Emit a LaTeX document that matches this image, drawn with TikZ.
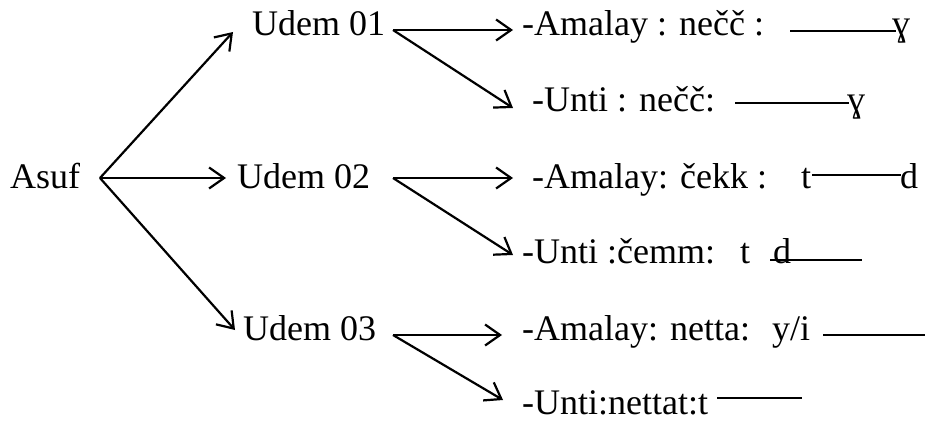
\documentclass[tikz,border=0pt]{standalone}
\usepackage{fontspec}
\setmainfont{Liberation Serif}
\usetikzlibrary{arrows.meta}
\begin{document}
\begin{tikzpicture}[x=1pt,y=-1pt,
  txt/.style={anchor=base west,inner sep=0pt,font=\fontsize{36}{40}\selectfont},
  arr/.style={line width=2.2pt,-{Straight Barb[length=15pt,width=21pt,line width=2.2pt]}},
  rule/.style={line width=1.8pt}]
\useasboundingbox (0,0) rectangle (928,420);
% level 0 and 1
\node[txt] (asuf) at (10,188) {Asuf};
\node[txt] (u1) at (252,36) {Udem 01};
\node[txt] (u2) at (237,188) {Udem 02};
\node[txt] (u3) at (243,340) {Udem 03};
\coordinate (asR) at (100,178);
\coordinate (u1in) at (233,32);
\coordinate (u2in) at (226,178);
\coordinate (u3in) at (235,330);
\draw[arr] (asR) -- (u1in);
\draw[arr] (asR) -- (u2in);
\draw[arr] (asR) -- (u3in);
% fan points
\coordinate (u1R) at (393,30);
\coordinate (u2R) at (393,178);
\coordinate (u3R) at (393,335);
\coordinate (r1in) at (513,30);
\coordinate (r2in) at (513,108);
\coordinate (r3in) at (513,178);
\coordinate (r4in) at (513,255);
\coordinate (r5in) at (502,335);
\coordinate (r6in) at (503,400);
\draw[arr] (u1R) -- (r1in);
\draw[arr] (u1R) -- (r2in);
\draw[arr] (u2R) -- (r3in);
\draw[arr] (u2R) -- (r4in);
\draw[arr] (u3R) -- (r5in);
\draw[arr] (u3R) -- (r6in);
% row texts
\node[txt] (r1) at (522,36) {-Amalay : nečč :};
\node[txt] (g1) at (892,36) {ɣ};
\node[txt] (r2) at (532,111) {-Unti : nečč:};
\node[txt] (g2) at (847,111) {ɣ};
\node[txt] (r3) at (532,188) {-Amalay: čekk :};
\node[txt] (t3) at (801,188) {t};
\node[txt] (d3) at (900,188) {d};
\node[txt] (r4) at (522,263) {-Unti :čemm:};
\node[txt] (t4) at (740,263) {t};
\node[txt] (d4) at (773,263) {d};
\node[txt] (r5) at (522,340) {-Amalay: netta:};
\node[txt] (y5) at (772,340) {y/i};
\node[txt] (r6) at (522,414) {-Unti:nettat:t};
% rules
\coordinate (l1a) at (790,31);  \coordinate (l1b) at (896,31);
\coordinate (l2a) at (735,103); \coordinate (l2b) at (849,103);
\coordinate (l3a) at (812,175); \coordinate (l3b) at (901,175);
\coordinate (l4a) at (770,260); \coordinate (l4b) at (862,260);
\coordinate (l5a) at (823,335); \coordinate (l5b) at (925,335);
\coordinate (l6a) at (717,398); \coordinate (l6b) at (802,398);
\draw[rule] (l1a) -- (l1b);
\draw[rule] (l2a) -- (l2b);
\draw[rule] (l3a) -- (l3b);
\draw[rule] (l4a) -- (l4b);
\draw[rule] (l5a) -- (l5b);
\draw[rule] (l6a) -- (l6b);
\end{tikzpicture}
\end{document}
